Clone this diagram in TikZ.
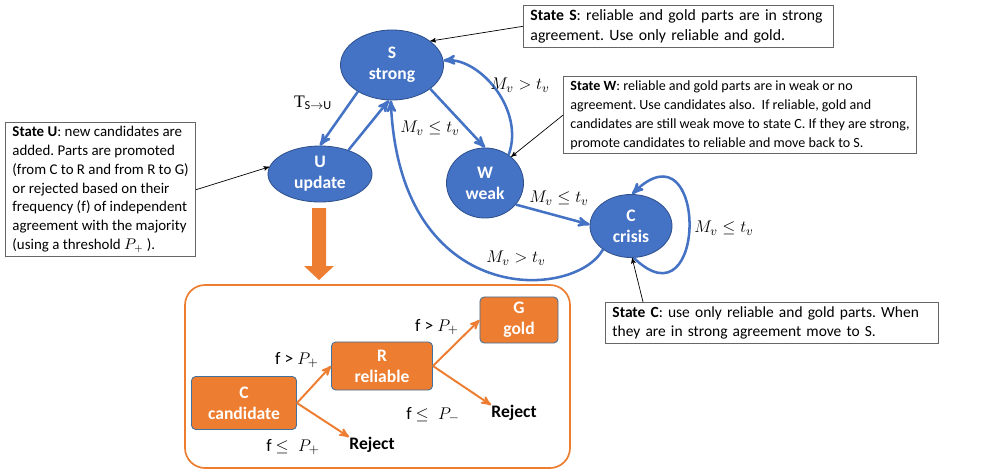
\documentclass[tikz,border=0pt]{standalone}
\usepackage{fontspec}
\setmainfont{Carlito}
\newfontfamily\serifletter{Liberation Serif}
\usetikzlibrary{arrows}
\usetikzlibrary{shapes.geometric}
\definecolor{stateblue}{HTML}{4472C4}
\definecolor{stateline}{HTML}{2F528F}
\definecolor{partorange}{HTML}{ED7D31}
\definecolor{partline}{HTML}{41719C}
\frenchspacing

\begin{document}
\begin{tikzpicture}[
    x=0.025cm, y=-0.025cm,
    state/.style={ellipse, draw=stateline, fill=stateblue, line width=0.6pt,
      inner sep=0pt, text=white, align=center,
      font=\fontsize{12.5}{15}\selectfont\bfseries},
    part/.style={rectangle, rounded corners=3pt, draw=partline, fill=partorange,
      line width=0.6pt, inner sep=0pt, text=white, align=center,
      font=\fontsize{12.5}{15}\selectfont\bfseries},
    callout/.style={rectangle, draw=black!60, fill=white, line width=0.6pt,
      inner xsep=5pt, inner ysep=3pt, align=left, anchor=north west},
    lbl/.style={inner sep=0pt, font=\fontsize{12.5}{15}\selectfont},
    reject/.style={inner sep=0pt, font=\fontsize{12.5}{15}\selectfont\bfseries},
    arrow/.style={>=stealth'},
    trans/.style={arrow, ->, draw=stateblue, line width=1.8pt},
    promote/.style={arrow, ->, draw=partorange, line width=1.4pt},
    pointer/.style={arrow, ->, draw=black, line width=0.5pt}
  ]
  \useasboundingbox (0,0) rectangle (984,473);

  \node[state, minimum width=2.575cm, minimum height=1.75cm] (s) at (392,65) {S\\strong};
  \node[state, minimum width=2.6cm, minimum height=1.4cm] (u) at (320,174) {U\\update};
  \node[state, minimum width=1.925cm, minimum height=1.75cm] (w) at (485,183) {W\\weak};
  \node[state, minimum width=2.05cm, minimum height=1.575cm] (c) at (631,226) {C\\crisis};

  \draw[trans] (s.218) -- (u.north);
  \draw[trans] (u.40) -- (s.265);
  \draw[trans] (s.-32) -- (w.north);
  \draw[trans] (w.50) .. controls (525,110) and (480,58) .. (s.5);
  \draw[trans] (w.-35) -- (c.178);
  \draw[trans] (c.220) .. controls (575,300) and (400,310) .. (s.268);
  \draw[trans] (c.-85) .. controls (708,330) and (708,120) .. (c.88);

  \node[lbl] (lsu) at (313,103) {{\serifletter T}$_{\mathrm{S}\rightarrow\mathrm{U}}$};
  \node[lbl] (lsw) at (430,128) {$M_v \leq t_v$};
  \node[lbl] (lws) at (520,85) {$M_v > t_v$};
  \node[lbl] (lwc) at (559,198) {$M_v \leq t_v$};
  \node[lbl] (lcs) at (516,258) {$M_v > t_v$};
  \node[lbl] (lcc) at (724,228) {$M_v \leq t_v$};

  \node[callout, text width=7.4cm, font=\fontsize{11.2}{14}\selectfont] (sinfo) at (523,5)
    {\textbf{State S}: reliable and gold parts are in strong\\agreement. Use only reliable and gold.};
  \node[callout, font=\fontsize{10}{13.5}\selectfont] (winfo) at (563,76)
    {\textbf{State W}: reliable and gold parts are in weak or no\\agreement. Use candidates also.\ \ If reliable, gold and\\candidates are still weak move to state C. If they are strong,\\promote candidates to reliable and move back to S.};
  \node[callout, font=\fontsize{10.6}{13.3}\selectfont] (uinfo) at (5,122)
    {\textbf{State U}: new candidates are\\added. Parts are promoted\\(from C to R and from R to G)\\or rejected based on their\\frequency (f) of independent\\agreement with the majority\\(using a threshold $P_{+}$ ).};
  \node[callout, text width=7.975cm, font=\fontsize{11}{13.5}\selectfont] (cinfo) at (605,302)
    {\textbf{State C}: use only reliable and gold parts. When\\they are in strong agreement move to S.};

  \draw[pointer] (sinfo.west) -- (s.32);
  \draw[pointer] (winfo.west) -- (w.45);
  \draw[pointer] (uinfo.east) -- (u.172);
  \draw[pointer] ([xshift=0.95cm]cinfo.north west) -- (c.-88);

  \fill[partorange] (312,208) -- (326,208) -- (326,266) -- (334,266) -- (319,280)
    -- (304,266) -- (312,266) -- cycle;
  \draw[partorange, line width=1.2pt, rounded corners=0.5cm] (185,285) rectangle (570,468);

  \node[part, minimum width=2.625cm, minimum height=1.325cm] (cand) at (244,403) {C\\candidate};
  \node[part, minimum width=2.525cm, minimum height=1.2cm] (rel) at (382,366) {R\\reliable};
  \node[part, minimum width=1.95cm, minimum height=1.15cm] (gold) at (519,320) {G\\gold};
  \node[reject] (rejc) at (372,445) {Reject};
  \node[reject] (rejr) at (514,413) {Reject};

  \draw[promote] (cand.east) -- (rel.west);
  \draw[promote] (cand.east) -- (rejc.north west);
  \draw[promote] (rel.east) -- (gold.west);
  \draw[promote] (rel.east) -- (rejr.north west);

  \node[lbl] (fcr) at (297,360) {f > $P_{+}$};
  \node[lbl] (fcx) at (293,447) {f $\leq\;P_{+}$};
  \node[lbl] (frg) at (437,327) {f > $P_{+}$};
  \node[lbl] (frx) at (433,415) {f $\leq\;P_{-}$};
\end{tikzpicture}
\end{document}
